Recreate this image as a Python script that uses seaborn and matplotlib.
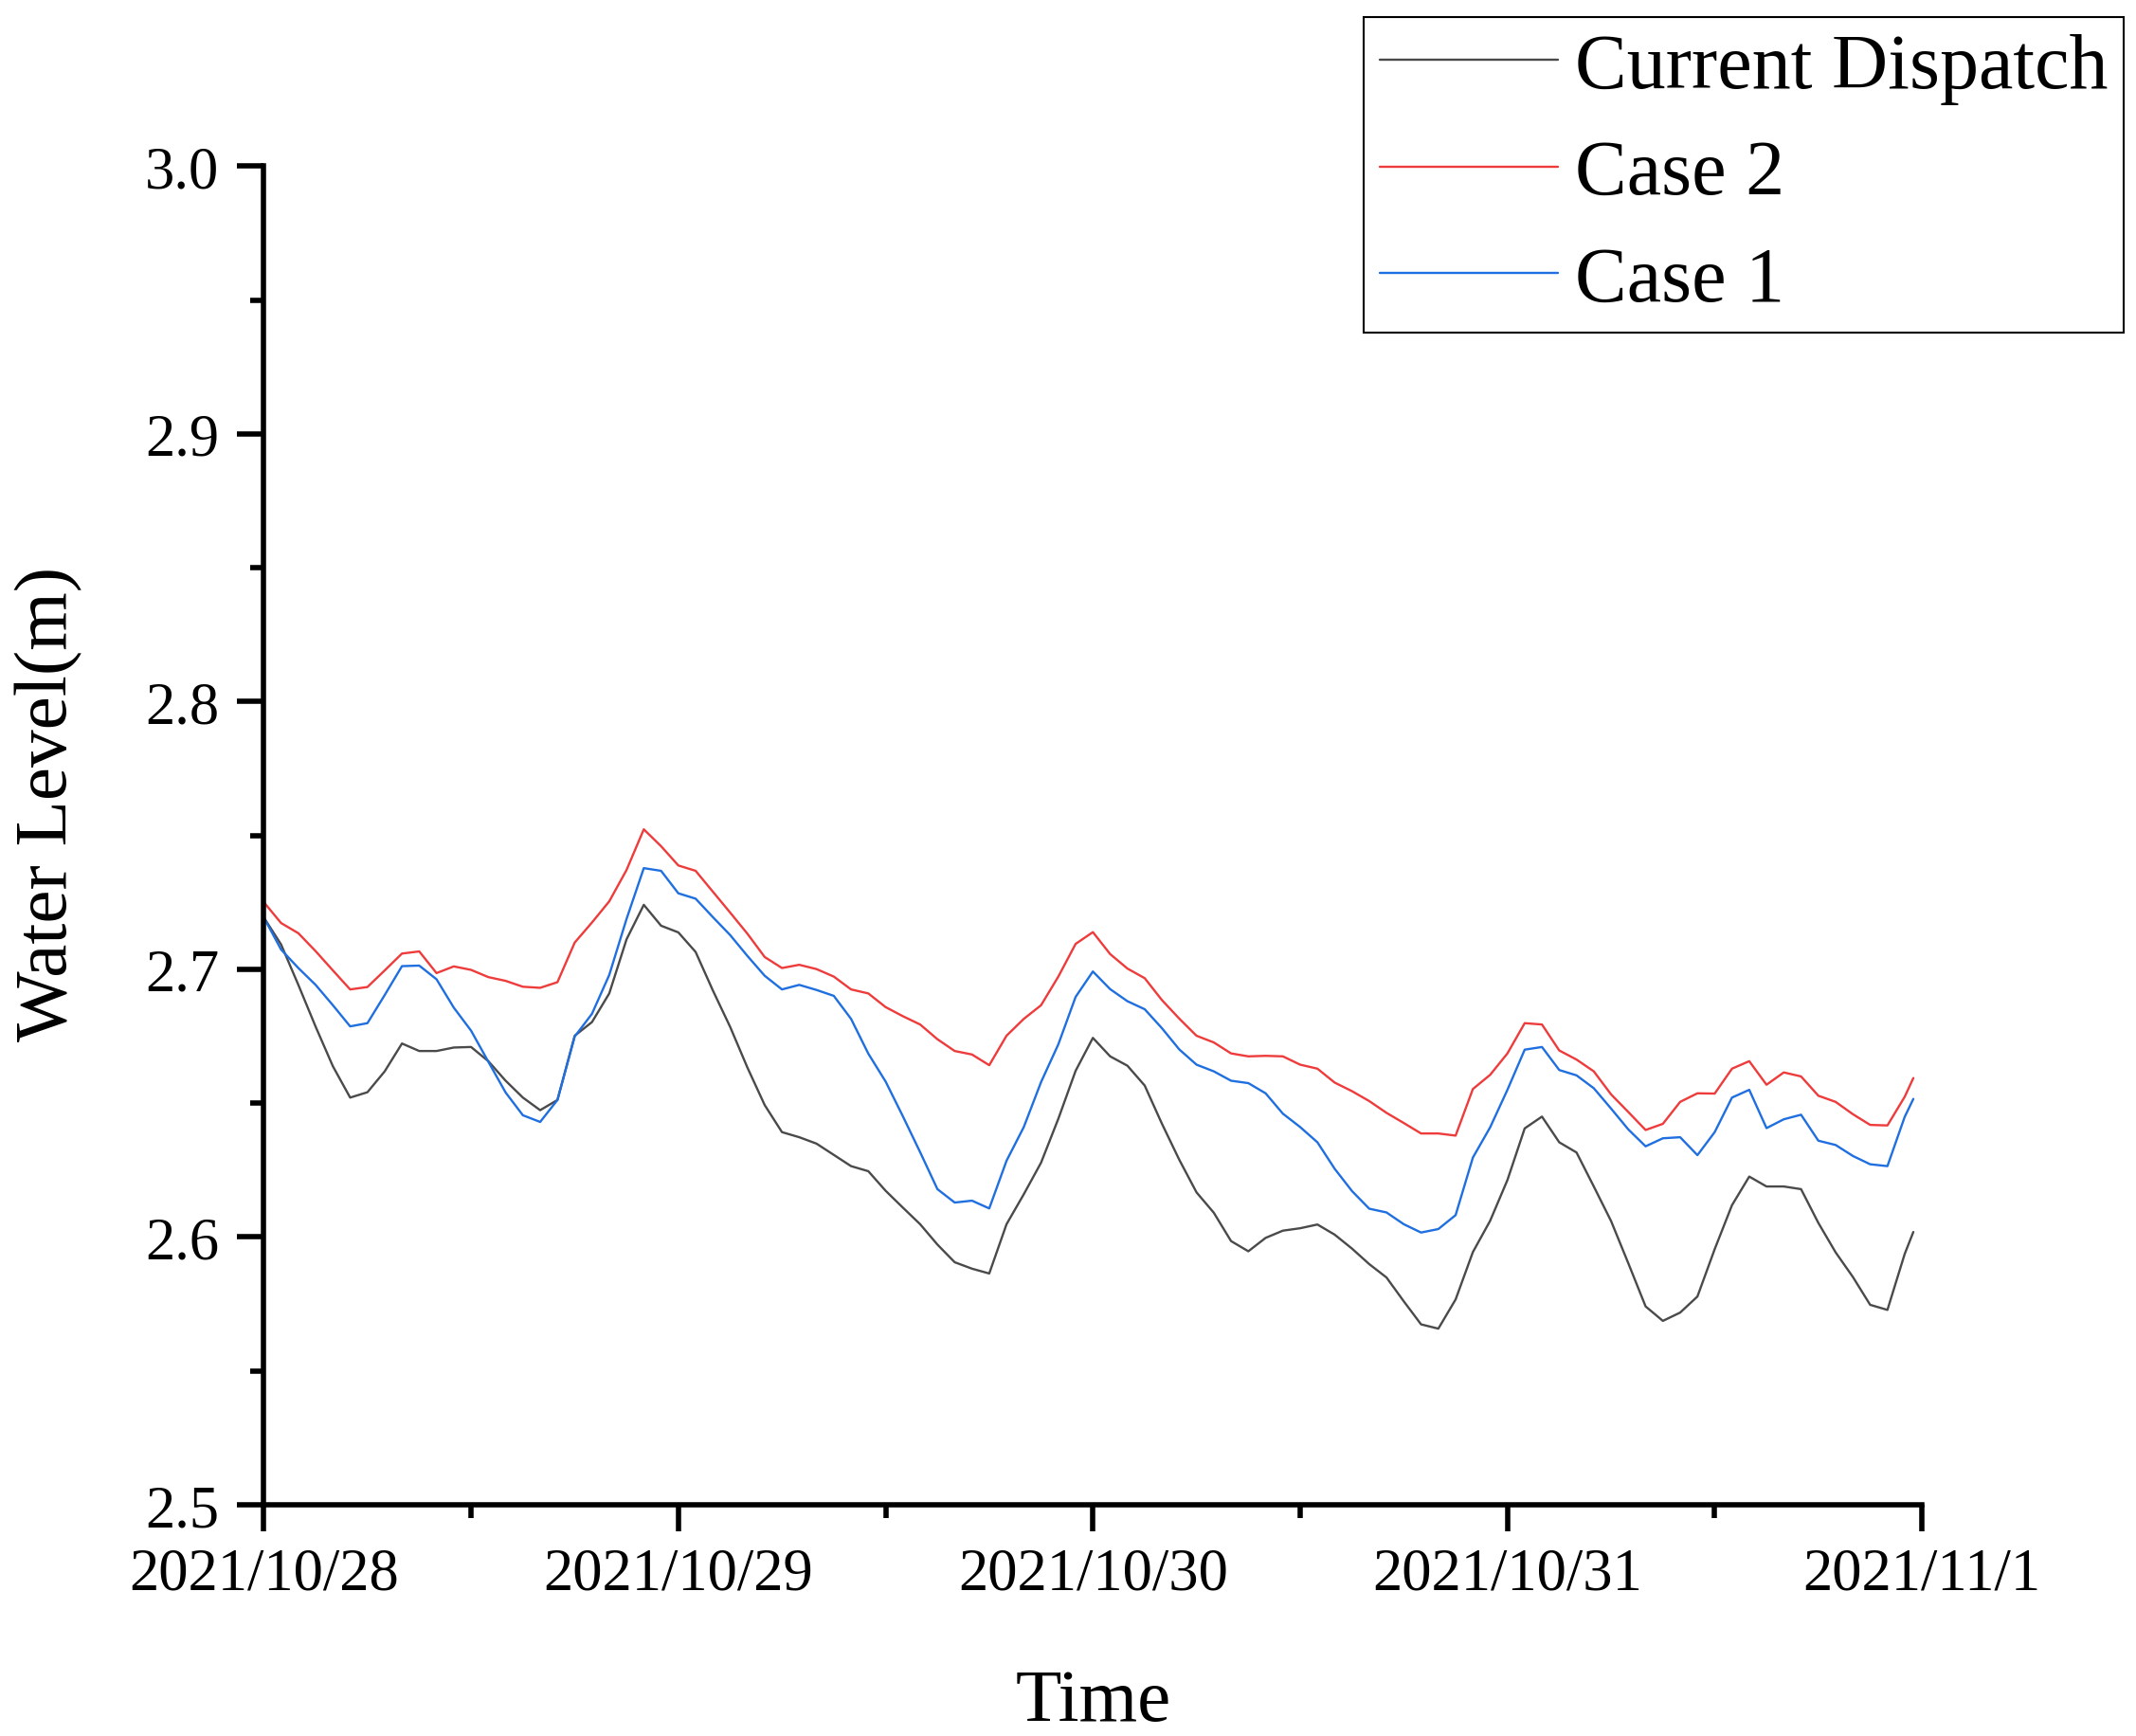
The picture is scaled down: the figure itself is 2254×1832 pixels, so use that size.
import matplotlib

matplotlib.use("Agg")
import matplotlib.dates as mdates
import matplotlib.pyplot as plt
import matplotlib.ticker as mticker
import pandas as pd
import seaborn as sns

# Data: hours after 2021/10/28 00:00, water level (m)
hours = list(range(96)) + [95.5]

current_dispatch = [
    2.7194, 2.7093, 2.6942, 2.6786, 2.6638, 2.6521, 2.6541, 2.6619, 2.6723, 2.6695,
    2.6695, 2.6708, 2.6710, 2.6657, 2.6584, 2.6521, 2.6474, 2.6512, 2.6752, 2.6803,
    2.6910, 2.7112, 2.7241, 2.7163, 2.7138, 2.7065, 2.6921, 2.6785, 2.6633, 2.6493,
    2.6392, 2.6373, 2.6349, 2.6307, 2.6265, 2.6246, 2.6173, 2.6110, 2.6048, 2.5972,
    2.5906, 2.5882, 2.5864, 2.6048, 2.6160, 2.6278, 2.6442, 2.6621, 2.6744, 2.6675,
    2.6640, 2.6566, 2.6423, 2.6289, 2.6167, 2.6091, 2.5985, 2.5947, 2.5997, 2.6024,
    2.6033, 2.6047, 2.6009, 2.5957, 2.5899, 2.5849, 2.5760, 2.5674, 2.5658, 2.5767,
    2.5944, 2.6061, 2.6213, 2.6406, 2.6450, 2.6354, 2.6316, 2.6189, 2.6060, 2.5902,
    2.5741, 2.5687, 2.5718, 2.5778, 2.5955, 2.6119, 2.6226, 2.6189, 2.6189, 2.6179,
    2.6053, 2.5943, 2.5851, 2.5747, 2.5728, 2.5937, 2.6019,
]

case2 = [
    2.7251, 2.7173, 2.7135, 2.7068, 2.6996, 2.6925, 2.6934, 2.6996, 2.7059, 2.7067,
    2.6986, 2.7011, 2.6998, 2.6971, 2.6957, 2.6935, 2.6931, 2.6952, 2.7100, 2.7175,
    2.7254, 2.7371, 2.7523, 2.7460, 2.7388, 2.7368, 2.7290, 2.7212, 2.7133, 2.7046,
    2.7005, 2.7017, 2.7001, 2.6973, 2.6925, 2.6910, 2.6859, 2.6825, 2.6794, 2.6739,
    2.6695, 2.6682, 2.6642, 2.6752, 2.6815, 2.6866, 2.6973, 2.7095, 2.7139, 2.7057,
    2.7003, 2.6967, 2.6885, 2.6816, 2.6752, 2.6727, 2.6686, 2.6675, 2.6677, 2.6675,
    2.6644, 2.6629, 2.6577, 2.6545, 2.6508, 2.6464, 2.6426, 2.6387, 2.6387, 2.6379,
    2.6553, 2.6606, 2.6686, 2.6799, 2.6794, 2.6697, 2.6663, 2.6619, 2.6533, 2.6467,
    2.6400, 2.6423, 2.6505, 2.6537, 2.6536, 2.6629, 2.6657, 2.6569, 2.6615, 2.6600,
    2.6528, 2.6505, 2.6459, 2.6419, 2.6417, 2.6524, 2.6594,
]

case1 = [
    2.7194, 2.7074, 2.7005, 2.6942, 2.6866, 2.6787, 2.6799, 2.6904, 2.7012, 2.7014,
    2.6963, 2.6857, 2.6771, 2.6655, 2.6540, 2.6455, 2.6430, 2.6512, 2.6749, 2.6834,
    2.6979, 2.7188, 2.7378, 2.7368, 2.7284, 2.7264, 2.7195, 2.7128, 2.7050, 2.6976,
    2.6925, 2.6942, 2.6923, 2.6901, 2.6815, 2.6685, 2.6581, 2.6451, 2.6317, 2.6179,
    2.6129, 2.6136, 2.6107, 2.6285, 2.6411, 2.6579, 2.6720, 2.6897, 2.6992, 2.6926,
    2.6881, 2.6851, 2.6780, 2.6701, 2.6644, 2.6619, 2.6584, 2.6575, 2.6537, 2.6461,
    2.6411, 2.6354, 2.6255, 2.6172, 2.6106, 2.6092, 2.6048, 2.6017, 2.6030, 2.6082,
    2.6297, 2.6410, 2.6550, 2.6700, 2.6710, 2.6624, 2.6604, 2.6556, 2.6480, 2.6402,
    2.6339, 2.6369, 2.6373, 2.6306, 2.6392, 2.6521, 2.6550, 2.6407, 2.6440, 2.6457,
    2.6360, 2.6344, 2.6303, 2.6272, 2.6265, 2.6449, 2.6516,
]

series_names = ["Current Dispatch", "Case 2", "Case 1"]
series_colors = ["#4a4a4a", "#ee3b3b", "#1f6fe0"]

START = pd.Timestamp("2021-10-28")
END = pd.Timestamp("2021-11-01")

# 1. Long-form table
times = START + pd.to_timedelta(hours, unit="h")
df = pd.concat(
    [
        pd.DataFrame({"Time": times, "Level": vals, "Series": name})
        for name, vals in zip(series_names, [current_dispatch, case2, case1])
    ],
    ignore_index=True,
)

# 2. Style
sns.set_style("ticks")
plt.rcParams["font.family"] = ["Liberation Serif", "DejaVu Serif"]
plt.rcParams["text.color"] = "black"
plt.rcParams["axes.labelcolor"] = "black"
plt.rcParams["xtick.color"] = "black"
plt.rcParams["ytick.color"] = "black"

fig = plt.figure(figsize=(22.54, 18.33), dpi=100)
ax = fig.add_axes([0.1235, 0.1331, 0.7763, 0.7707])

sns.lineplot(
    data=df,
    x="Time",
    y="Level",
    hue="Series",
    hue_order=series_names,
    palette=dict(zip(series_names, series_colors)),
    estimator=None,
    linewidth=1.7,
    ax=ax,
)

# 3. Axes
ax.set_xlim(START, END)
ax.set_ylim(2.5, 3.0)

ax.xaxis.set_major_locator(mdates.DayLocator())
ax.xaxis.set_minor_locator(mdates.HourLocator(byhour=12))


def day_label(v, pos):
    d = mdates.num2date(v)
    return f"{d.year}/{d.month}/{d.day}"


ax.xaxis.set_major_formatter(mticker.FuncFormatter(day_label))
ax.yaxis.set_major_locator(mticker.MultipleLocator(0.1))
ax.yaxis.set_minor_locator(mticker.MultipleLocator(0.05))
ax.yaxis.set_major_formatter(mticker.FormatStrFormatter("%.1f"))

sns.despine(ax=ax)
for side in ["left", "bottom"]:
    ax.spines[side].set_linewidth(4)
    ax.spines[side].set_color("black")

ax.tick_params(which="major", direction="out", length=20, width=4, color="black",
               labelcolor="black", labelsize=45)
ax.tick_params(which="minor", direction="out", length=10, width=4, color="black")
ax.tick_params(axis="x", which="major", pad=12)
ax.tick_params(axis="y", which="major", pad=14)

ax.set_xlabel("Time", fontsize=57, color="black")
ax.set_ylabel("Water Level(m)", fontsize=57, color="black")
ax.xaxis.set_label_coords(0.5, -0.122)
ax.yaxis.set_label_coords(-0.109, 0.524)

# 4. Legend (sits above the axes, top right of the figure)
handles, labels = ax.get_legend_handles_labels()
leg = ax.legend(
    handles,
    labels,
    loc="upper right",
    bbox_to_anchor=(2241 / 2254, 1 - 19 / 1833),
    bbox_transform=fig.transFigure,
    borderaxespad=0,
    fontsize=59,
    frameon=True,
    fancybox=False,
    framealpha=1,
    edgecolor="black",
    borderpad=0.2,
    labelspacing=0.45,
    handlelength=2.3,
    handletextpad=0.22,
)
leg.get_frame().set_linewidth(1.5)
for line in leg.get_lines():
    line.set_linewidth(1.7)
for text in leg.get_texts():
    text.set_color("black")

fig.savefig("out.png", dpi=100)
